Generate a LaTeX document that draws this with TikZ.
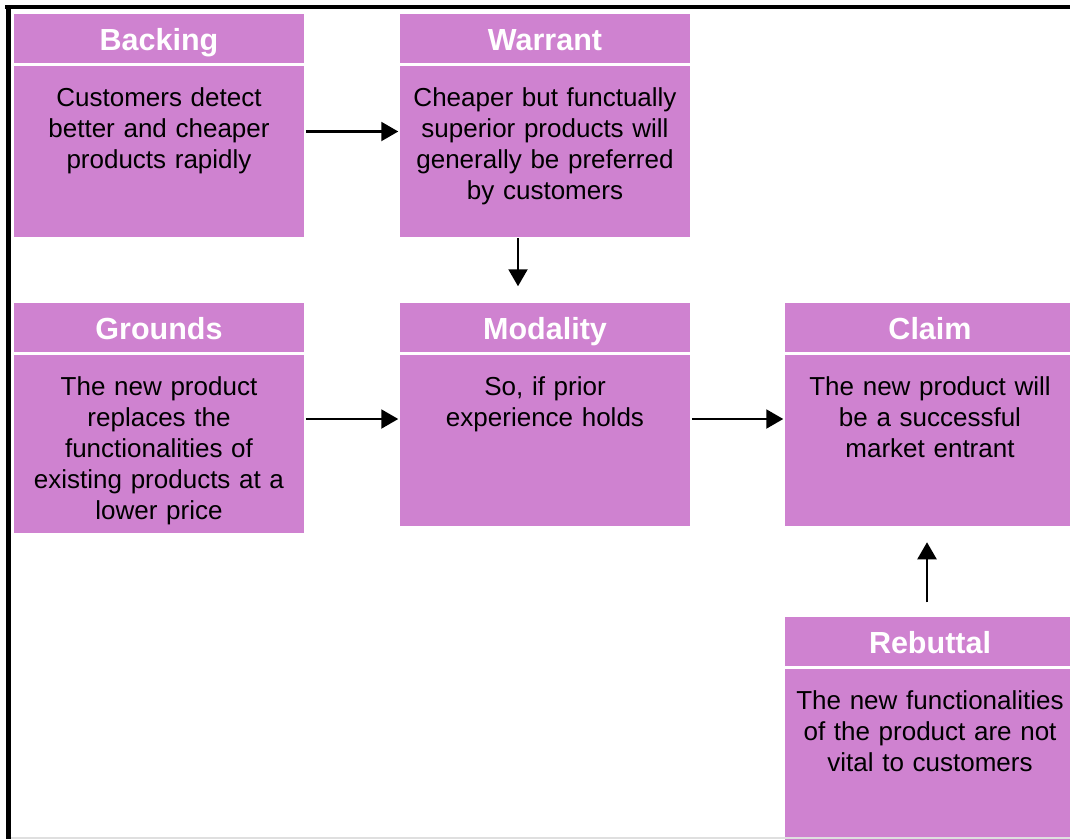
\documentclass[tikz,border=0pt]{standalone}
\usepackage{fontspec}
\setmainfont{Liberation Sans}
\usetikzlibrary{positioning,arrows.meta}
\definecolor{boxpink}{RGB}{207,130,208}

\begin{document}
\begin{tikzpicture}[x=1pt, y=1pt,
    head/.style={fill=boxpink, draw=white, line width=1.5pt, minimum width=292pt,
                 minimum height=51pt, inner sep=0pt, text=white,
                 text height=24pt, text depth=0pt,
                 font=\fontsize{30.5}{36}\selectfont\bfseries},
    body/.style={fill=boxpink, draw=white, line width=1.5pt, text width=280pt,
                 inner xsep=6pt, inner ysep=20pt, align=center,
                 text height=21pt, text depth=111pt,
                 font=\fontsize{26}{31}\selectfont},
    arr/.style={line width=2.2pt, -{Triangle[length=17pt, width=19pt]}}]
  \useasboundingbox (0,0) rectangle (1070,-839);
  \fill[white] (0,0) rectangle (1070,-839);
  % frame
  \draw[line width=4.5pt] (5,-7) -- (1070,-7);
  \draw[line width=5pt] (8.5,-5) -- (8.5,-839);

  \node[head] (backing) at (159,-38.5) {Backing};
  \node[body, below=0pt of backing] (backingtxt)
    {Customers detect\\better and cheaper\\products rapidly};
  \node[head] (warrant) at (545,-38.5) {Warrant};
  \node[body, below=0pt of warrant] (warranttxt)
    {Cheaper but functually\\superior products will\\generally be preferred\\by customers};

  \node[head] (grounds) at (159,-327.5) {Grounds};
  \node[body, below=0pt of grounds, text depth=118pt] (groundstxt)
    {The new product\\replaces the\\functionalities of\\existing products at a\\lower price};
  \node[head] (modality) at (545,-327.5) {Modality};
  \node[body, below=0pt of modality] (modalitytxt)
    {So, if prior\\experience holds};
  \node[head] (claim) at (930,-327.5) {Claim};
  \node[body, below=0pt of claim] (claimtxt)
    {The new product will\\be a successful\\market entrant};

  \node[head] (rebuttal) at (930,-641.5) {Rebuttal};
  \node[body, below=0pt of rebuttal] (rebuttaltxt)
    {The new functionalities\\of the product are not\\vital to customers};

  % arrows
  \coordinate (mid) at (0,-419);
  \draw[arr] ([yshift=20pt]backingtxt.east) -- ([yshift=20pt]warranttxt.west);
  \draw[arr] ([xshift=-27pt]warranttxt.south) -- ([xshift=-27pt,yshift=15pt]modality.north);
  \draw[arr] (groundstxt.east |- mid) -- (modalitytxt.west |- mid);
  \draw[arr] (modalitytxt.east |- mid) -- (claimtxt.west |- mid);
  \draw[arr] ([xshift=-3pt,yshift=13pt]rebuttal.north) -- ([xshift=-3pt,yshift=-15pt]claimtxt.south);

  \draw[gray!25, line width=2pt] (11,-838) -- (1070,-838);
\end{tikzpicture}
\end{document}
